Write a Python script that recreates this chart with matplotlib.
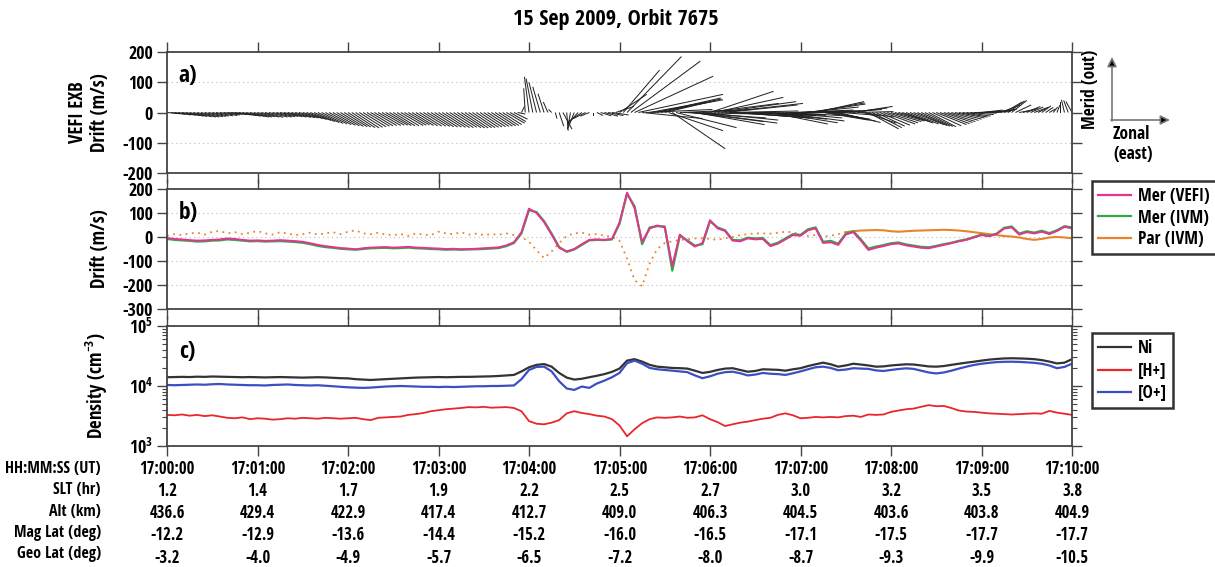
import numpy as np
import matplotlib
matplotlib.use("Agg")
import matplotlib.pyplot as plt
from matplotlib import font_manager as fm
from matplotlib.ticker import FixedLocator, LogLocator, NullFormatter

# narrow bold face for all labels, whichever condensed family is present
_names = {f.name for f in fm.fontManager.ttflist}
_narrow = [n for n in ("Liberation Sans Narrow", "Open Sans Condensed", "Roboto Condensed",
                       "Noto Sans Condensed", "DejaVu Sans Condensed", "Arial Narrow") if n in _names]
_cond = [f.name for f in fm.fontManager.ttflist
         if f.stretch in ("condensed", "semi-condensed", "extra-condensed", 62.5, 75, 87.5)]
FAMILY = (_narrow + _cond + ["Liberation Sans"])[0]
NARROW = FAMILY != "Liberation Sans"
FS = 12 if NARROW else 10.5

plt.rcParams["font.family"] = [FAMILY, "DejaVu Sans"]
plt.rcParams["font.weight"] = "bold"
plt.rcParams["axes.labelweight"] = "bold"
plt.rcParams["mathtext.fontset"] = "custom"
plt.rcParams["mathtext.rm"] = f"{FAMILY}:bold"
plt.rcParams["mathtext.bf"] = f"{FAMILY}:bold"
plt.rcParams["mathtext.default"] = "rm"
plt.rcParams["axes.unicode_minus"] = False

# seconds after 17:00:00 UT, 5 s cadence
secs = np.arange(0, 601, 5)
# in-between samples used for the drift-vector sticks
mid_secs = np.arange(2.5, 600, 5)

# meridional drift (m/s), VEFI
mer_vefi = [
    -4, -8, -10, -13, -15, -14, -12, -10, -6, -8, -12, -15, -14, -16, -15, -13,
    -15, -17, -20, -26, -33, -38, -42, -46, -48, -51, -47, -44, -43, -42, -44, -43,
    -41, -44, -45, -47, -48, -50, -49, -51, -50, -49, -47, -45, -43, -35, -22, 20,
    118, 100, 62, 10, -45, -60, -50, -30, -12, -10, -12, -8, 60, 185, 120, -20,
    35, 48, 40, -120, 10, -18, -40, -25, 70, 36, 25, -15, -18, -6, -10, -8,
    -38, -28, -10, 8, 5, 28, 36, -25, -22, -33, 10, 20, -15, -54, -45, -38,
    -30, -27, -35, -40, -45, -47, -40, -33, -26, -18, -12, -2, 8, 3, 12, 35,
    40, 10, 20, 15, 22, 12, 25, 42, 36,
]
mer_vefi_mid = [
    -6, -9, -12, -14, -15, -13, -11, -8, -7, -10, -13, -15, -15, -15, -14, -14,
    -16, -18, -23, -30, -36, -40, -44, -47, -50, -49, -45, -43, -42, -43, -44, -42,
    -43, -45, -46, -48, -49, -50, -50, -51, -50, -48, -46, -44, -40, -30, -5, 80,
    112, 85, 35, -20, -55, -56, -40, -20, -11, -11, -10, 20, 140, 170, 60, 10,
    42, 45, -60, -50, -5, -30, -35, 30, 50, 30, 5, -18, -12, -8, -9, -22,
    -34, -18, 0, 6, 18, 32, 5, -24, -28, -10, 15, 3, -35, -50, -42, -34,
    -28, -31, -38, -43, -46, -44, -37, -30, -22, -15, -7, 3, 6, 8, 24, 38,
    25, 15, 18, 18, 17, 18, 34, 40,
]
# meridional drift (m/s), IVM
mer_ivm = [
    -8, -12, -14, -16, -19, -18, -15, -14, -10, -12, -15, -18, -17, -19, -18, -17,
    -19, -21, -24, -30, -37, -42, -45, -49, -51, -53, -50, -47, -46, -45, -47, -46,
    -44, -47, -48, -50, -51, -53, -52, -53, -52, -51, -50, -48, -46, -38, -25, 15,
    112, 104, 66, 14, -42, -62, -52, -33, -14, -12, -13, -10, 55, 180, 128, -30,
    40, 45, 44, -140, 5, -14, -36, -30, 66, 40, 28, -12, -14, -3, -6, -4,
    -34, -24, -6, 12, 9, 32, 40, -20, -16, -28, 14, 24, -10, -48, -40, -34,
    -26, -23, -31, -36, -41, -43, -37, -30, -24, -16, -10, 0, 10, 5, 14, 38,
    44, 14, 24, 18, 26, 16, 28, 45, 40,
]
# parallel drift (m/s), IVM
par_ivm = [
    5, 12, 8, 15, 18, 10, 22, 25, 15, 20, 12, 18, 25, 15, 10, 20,
    14, 8, 12, 18, 10, 15, 20, 12, 22, 28, 15, 12, 18, 10, 8, 12,
    5, 15, 10, 8, 22, 15, 12, 20, 10, 14, 8, 12, 10, 15, 8, 0,
    -20, -55, -88, -60, -25, 5, 15, 18, 10, 12, 5, 0, -15, -90, -180, -205,
    -110, -50, -25, -18, -12, -10, -6, -5, -8, -12, -5, 0, 8, 12, 15, 15,
    14, 18, 22, 20, 10, 5, 8, 2, 5, 12, 20, 24, 27, 28, 29, 28,
    24, 22, 24, 26, 27, 28, 29, 30, 29, 27, 24, 20, 16, 12, 8, 4,
    2, -2, -8, -12, -8, -2, 0, -2, -5,
]
# zonal drift (m/s, positive east), VEFI
zonal_vefi = [
    40, 55, 60, 58, 62, 60, 55, 58, 50, 55, 60, 62, 58, 60, 64, 60,
    62, 65, 66, 68, 70, 72, 74, 76, 75, 78, 76, 74, 75, 73, 72, 74,
    70, 72, 74, 75, 76, 78, 77, 78, 76, 74, 72, 70, 66, 60, 45, 10,
    -15, -25, -20, -10, 15, 5, -20, -45, -30, 20, 45, 55, 90, 180, 260, 200,
    190, 210, 170, 175, 240, 260, 230, 250, 210, 260, 240, 220, 230, 250, 200, 210,
    190, 220, 180, 200, 170, 190, 160, 150, 130, 140, 120, 130, 110, 100, 95, 105,
    100, 95, 90, 100, 95, 90, 100, 95, 90, 85, 80, 75, 70, 72, 68, 60,
    50, 55, 45, 40, 30, 20, 10, -10, -20,
]
zonal_vefi_mid = [
    48, 58, 59, 60, 61, 58, 56, 54, 52, 58, 61, 60, 59, 62, 62, 61,
    64, 65, 67, 69, 71, 73, 75, 76, 77, 77, 75, 74, 74, 72, 73, 72,
    71, 73, 75, 76, 77, 78, 78, 77, 75, 73, 71, 68, 63, 52, 25, -5,
    -22, -25, -15, 5, 30, -10, -35, -40, 0, 35, 50, 60, 120, 230, 280, 220,
    230, 200, 180, 200, 250, 240, 260, 240, 230, 270, 230, 240, 210, 230, 220, 200,
    210, 200, 190, 210, 180, 175, 155, 140, 135, 125, 125, 120, 105, 98, 100, 102,
    98, 92, 95, 98, 92, 95, 98, 92, 88, 82, 78, 72, 71, 70, 64, 55,
    52, 50, 42, 35, 25, 15, 0, -15,
]
# ion densities (cm^-3)
ni = [
    14000, 14100, 14200, 14100, 14300, 14200, 14400, 14300, 14200, 14100, 14000, 14100,
    14000, 13900, 14000, 14100, 14000, 13900, 13800, 13900, 14000, 13900, 13700, 13500,
    13400, 13000, 12800, 12600, 12800, 13000, 13200, 13400, 13600, 13800, 13900, 14000,
    14100, 14000, 14100, 14200, 14200, 14300, 14400, 14500, 14700, 15000, 15300, 17500,
    20500, 22500, 23200, 21000, 16500, 13800, 12800, 13200, 14000, 14800, 15800, 17200,
    19500, 26500, 28000, 25500, 22500, 21000, 20500, 20000, 19800, 19500, 18000, 16500,
    17200, 18500, 19500, 19800, 18500, 17300, 17800, 19000, 18800, 18600, 18000, 19000,
    19800, 21500, 23000, 24500, 23000, 21000, 22000, 23500, 22800, 22000, 21000, 21200,
    22000, 22500, 23000, 22800, 22000, 21200, 21000, 21500, 22500, 23500, 24500, 25400,
    26500, 27500, 28200, 28800, 29000, 28800, 28500, 28000, 27000, 25500, 23800, 24500,
    28000,
]
h_plus = [
    3300, 3250, 3350, 3200, 3300, 3150, 3250, 3100, 2950, 2900, 3000, 2800,
    2900, 2850, 2750, 2800, 2900, 2850, 2950, 2900, 2850, 2950, 2900, 2850,
    2900, 2950, 2800, 2700, 2950, 3000, 3050, 3100, 3300, 3400, 3550, 3800,
    3950, 4100, 4200, 4300, 4450, 4400, 4500, 4350, 4400, 4450, 4300, 3800,
    2600, 2350, 2300, 2450, 2700, 3500, 3800, 3550, 3400, 3200, 3100, 2800,
    2200, 1450, 1900, 2400, 2800, 3000, 2950, 3000, 3100, 2950, 3000, 3250,
    2800, 2500, 2150, 2300, 2450, 2550, 2700, 2850, 2950, 3300, 3500, 3250,
    2900, 2950, 3050, 3000, 3050, 3000, 3150, 3200, 3050, 3350, 3300, 3350,
    3700, 3900, 4100, 4200, 4500, 4800, 4600, 4650, 4300, 3900, 3750, 3700,
    3600, 3500, 3450, 3400, 3350, 3400, 3450, 3500, 3450, 3850, 3600, 3450,
    3300,
]
o_plus = [
    10400, 10300, 10400, 10500, 10600, 10500, 10700, 10800, 10600, 10500, 10400, 10300,
    10300, 10200, 10400, 10500, 10600, 10400, 10300, 10200, 10300, 10100, 9900, 9700,
    9500, 9400, 9300, 9400, 9600, 9800, 9900, 10000, 9900, 9800, 9700, 9700,
    9600, 9700, 9600, 9700, 9800, 9900, 9900, 10000, 10000, 10100, 10200, 13000,
    18500, 20800, 21000, 17500, 12000, 9100, 8600, 9800, 9300, 11000, 12300, 14000,
    16500, 24000, 26500, 23500, 20000, 19000, 18500, 18000, 17500, 17000, 15000, 13500,
    14500, 16000, 17000, 17300, 16300, 15000, 15500, 16500, 16000, 15800, 15300, 16300,
    17500, 19000, 20500, 21000, 20000, 18300, 18800, 19800, 19500, 19300, 18200, 17800,
    18500, 19200, 19700, 19300, 18000, 16800, 16200, 16800, 18000, 19500, 21000, 22400,
    23500, 24300, 25000, 25300, 25400, 25200, 24800, 24300, 23500, 22000, 19800, 20800,
    23500,
]

# ephemeris rows under the time axis
tick_secs = np.arange(0, 601, 60)
ut_labels = ["17:00:00", "17:01:00", "17:02:00", "17:03:00", "17:04:00", "17:05:00",
             "17:06:00", "17:07:00", "17:08:00", "17:09:00", "17:10:00"]
slt = ["1.2", "1.4", "1.7", "1.9", "2.2", "2.5", "2.7", "3.0", "3.2", "3.5", "3.8"]
alt = ["436.6", "429.4", "422.9", "417.4", "412.7", "409.0", "406.3", "404.5", "403.6", "403.8", "404.9"]
mag_lat = ["-12.2", "-12.9", "-13.6", "-14.4", "-15.2", "-16.0", "-16.5", "-17.1", "-17.5", "-17.7", "-17.7"]
geo_lat = ["-3.2", "-4.0", "-4.9", "-5.7", "-6.5", "-7.2", "-8.0", "-8.7", "-9.3", "-9.9", "-10.5"]
row_names = ["HH:MM:SS (UT)", "SLT (hr)", "Alt (km)", "Mag Lat (deg)", "Geo Lat (deg)"]

C_VEFI = "#e3358f"
C_IVM = "#2fa944"
C_PAR = "#e8842c"
C_NI = "#333333"
C_H = "#e8262c"
C_O = "#3c4fc2"
SPINE = "#444444"

fig = plt.figure(figsize=(12.15, 5.67), dpi=100)
W, H = 1215, 567


def add_axes(top, bottom):
    return fig.add_axes([167 / W, 1 - bottom / H, 905 / W, (bottom - top) / H])


ax_a = add_axes(52, 173)
ax_b = add_axes(189, 309)
ax_c = add_axes(326, 446)

for ax in (ax_a, ax_b, ax_c):
    ax.set_xlim(0, 600)
    ax.xaxis.set_major_locator(FixedLocator(tick_secs))
    ax.tick_params(direction="out", length=7, width=1, color=SPINE, top=True, right=True,
                   labelsize=FS, pad=3)
    ax.tick_params(axis="y", labelsize=FS + 1)
    for s in ax.spines.values():
        s.set_color(SPINE)
        s.set_linewidth(1.3)
for ax in (ax_a, ax_b):
    ax.tick_params(labelbottom=False)

# a) drift vectors as sticks from the zero line
ax_a.set_ylim(-200, 200)
ax_a.set_yticks([-200, -100, 0, 100, 200])
for yv in (-100, 100):
    ax_a.axhline(yv, color="#bbbbbb", lw=0.8, ls=(0, (1, 3)), zorder=0)
stick_kw = dict(angles="uv", scale_units="y", scale=1, units="dots", width=1.0,
                headwidth=0, headlength=0, headaxislength=0, pivot="tail", color="#222222")
ax_a.quiver(secs, np.zeros(len(secs)), zonal_vefi, mer_vefi, **stick_kw)
ax_a.quiver(mid_secs, np.zeros(len(mid_secs)), zonal_vefi_mid, mer_vefi_mid, **stick_kw)
ax_a.set_ylabel("VEFI EXB\nDrift (m/s)", fontsize=FS + 1.5, linespacing=1.15)
ax_a.yaxis.set_label_coords(-0.063, 0.5)
ax_a.text(0.013, 0.8, "a)", transform=ax_a.transAxes, fontsize=FS + 5, va="center")

# b) meridional and parallel drifts
ax_b.set_ylim(-300, 200)
ax_b.set_yticks([-300, -200, -100, 0, 100, 200])
for yv in (-200, -100, 0, 100):
    ax_b.axhline(yv, color="#bbbbbb", lw=0.8, ls=(0, (1, 3)), zorder=0)
par = np.array(par_ivm, dtype=float)
split = 90
ax_b.plot(secs[:split + 1], par[:split + 1], color=C_PAR, lw=1.3, ls=(0, (1, 2.5)))
ax_b.plot(secs[split:], par[split:], color=C_PAR, lw=1.5)
ax_b.plot(secs, mer_ivm, color=C_IVM, lw=1.6)
ax_b.plot(secs, mer_vefi, color=C_VEFI, lw=1.4)
ax_b.set_ylabel("Drift (m/s)", fontsize=FS + 1.5)
ax_b.yaxis.set_label_coords(-0.063, 0.5)
ax_b.text(0.013, 0.8, "b)", transform=ax_b.transAxes, fontsize=FS + 5, va="center")
h1, = ax_b.plot([], [], color=C_VEFI, lw=1.6, label="Mer (VEFI)")
h2, = ax_b.plot([], [], color=C_IVM, lw=1.6, label="Mer (IVM)")
h3, = ax_b.plot([], [], color=C_PAR, lw=1.6, label="Par (IVM)")
leg_b = ax_b.legend(handles=[h1, h2, h3], loc="upper left", bbox_to_anchor=(1.022, 1.067),
                    fontsize=FS + 0.5, frameon=True, fancybox=False, handlelength=1.9,
                    handletextpad=0.4, labelspacing=0.2, borderpad=0.35, borderaxespad=0)
leg_b.get_frame().set_edgecolor("black")
leg_b.get_frame().set_linewidth(1.8)

# c) ion densities
ax_c.set_yscale("log")
ax_c.set_ylim(1e3, 1e5)
ax_c.yaxis.set_major_locator(LogLocator(base=10, numticks=5))
ax_c.yaxis.set_minor_locator(LogLocator(base=10, subs=np.arange(2, 10), numticks=20))
ax_c.yaxis.set_minor_formatter(NullFormatter())
ax_c.tick_params(which="minor", direction="out", length=3.5, width=0.8, color=SPINE, right=True)
ax_c.plot(secs, ni, color=C_NI, lw=1.6)
ax_c.plot(secs, o_plus, color=C_O, lw=1.6)
ax_c.plot(secs, h_plus, color=C_H, lw=1.3)
ax_c.set_ylabel("Density (cm$^{-3}$)", fontsize=FS + 1.5)
ax_c.yaxis.set_label_coords(-0.063, 0.5)
ax_c.text(0.013, 0.78, "c)", transform=ax_c.transAxes, fontsize=FS + 5, va="center")
g1, = ax_c.plot([], [], color=C_NI, lw=1.6, label="Ni")
g2, = ax_c.plot([], [], color=C_H, lw=1.6, label="[H+]")
g3, = ax_c.plot([], [], color=C_O, lw=1.6, label="[O+]")
leg_c = ax_c.legend(handles=[g1, g2, g3], loc="upper left", bbox_to_anchor=(1.022, 0.94),
                    fontsize=FS + 0.5, frameon=True, fancybox=False, handlelength=1.9,
                    handletextpad=0.4, labelspacing=0.25, borderpad=0.35, borderaxespad=0)
leg_c.get_frame().set_edgecolor("black")
leg_c.get_frame().set_linewidth(1.8)

# multi-row time axis
ax_c.set_xticks(tick_secs)
ax_c.set_xticklabels(["\n".join(r) for r in zip(ut_labels, slt, alt, mag_lat, geo_lat)],
                     fontsize=FS, linespacing=1.3)
row_y = [469, 490, 511.5, 533, 554]
for name, yy in zip(row_names, row_y):
    fig.text(101 / W, 1 - yy / H, name, ha="right", va="center", fontsize=FS - 0.5)

# orientation key for the stick plot
arrow_kw = dict(arrowstyle="-|>", color="#777777", fc="black", lw=1.2,
                mutation_scale=14, shrinkA=0, shrinkB=0)
ax_a.annotate("", xy=(1112, H - 57), xytext=(1112, H - 121), xycoords="figure pixels",
              textcoords="figure pixels", arrowprops=arrow_kw, annotation_clip=False)
ax_a.annotate("", xy=(1170, H - 120), xytext=(1111, H - 120), xycoords="figure pixels",
              textcoords="figure pixels", arrowprops=arrow_kw, annotation_clip=False)
fig.text(1090 / W, 1 - 89 / H, "Merid (out)", rotation=90, ha="center", va="center",
         fontsize=FS + 0.5)
fig.text(1113 / W, 1 - 144 / H, "Zonal\n(east)", ha="left", va="center", fontsize=FS + 0.5,
         linespacing=1.1)

fig.text(616 / W, 1 - 20 / H, "15 Sep 2009, Orbit 7675", ha="center", va="center",
         fontsize=FS + 4)

fig.savefig("out.png", dpi=100)
